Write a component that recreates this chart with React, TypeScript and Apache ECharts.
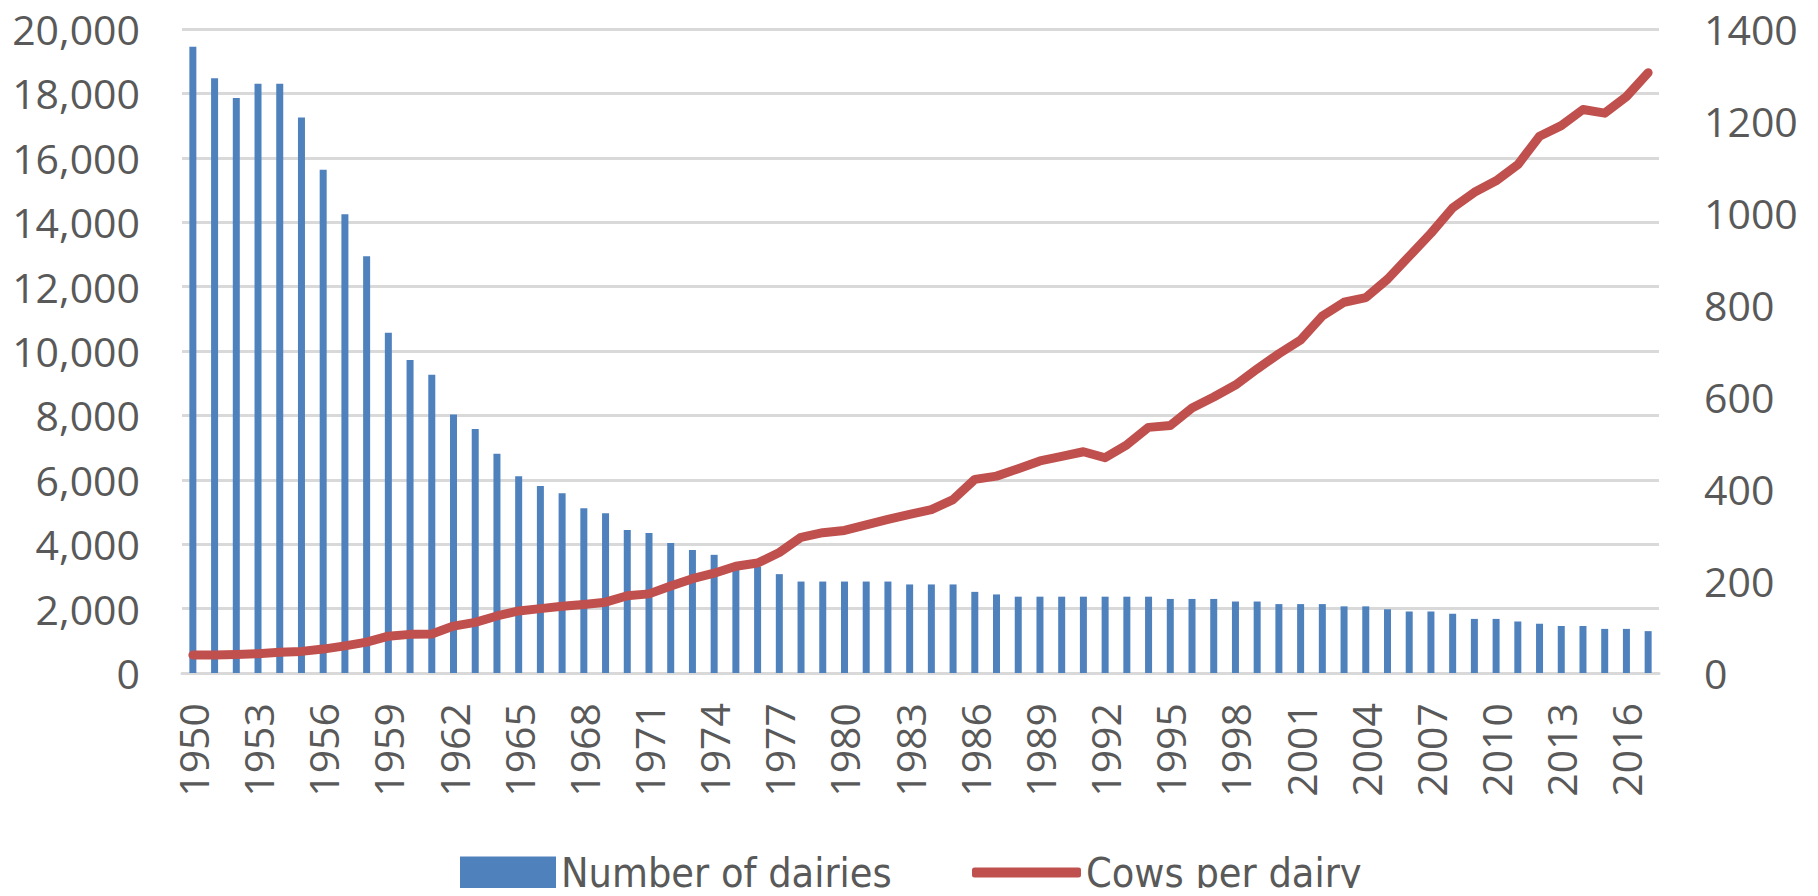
import React, { useEffect, useRef } from "react";
import * as echarts from "echarts";

const years: string[] = [];
for (let y = 1950; y <= 2017; y++) years.push(String(y));

const dairies = [
  19450, 18470, 17860, 18300, 18300, 17250, 15630, 14250, 12940, 10570,
  9720, 9260, 8030, 7580, 6810, 6110, 5810, 5580, 5120, 4960,
  4440, 4350, 4040, 3820, 3670, 3350, 3310, 3070, 2840, 2840,
  2840, 2840, 2840, 2750, 2750, 2750, 2520, 2440, 2370, 2370,
  2370, 2370, 2370, 2370, 2370, 2300, 2300, 2300, 2220, 2220,
  2140, 2140, 2140, 2070, 2070, 1980, 1910, 1910, 1840, 1680,
  1680, 1600, 1530, 1460, 1460, 1370, 1370, 1300,
];

const cowsPerDairy = [
  39, 39, 40, 42, 45, 47, 52, 59, 67, 80,
  84, 85, 102, 110, 124, 135, 140, 145, 149, 154,
  168, 172, 189, 205, 217, 232, 239, 262, 295, 305,
  310, 322, 334, 345, 355, 377, 421, 428, 444, 461,
  471, 481, 468, 496, 534, 538, 576, 600, 626, 661,
  694, 724, 776, 806, 816, 856, 906, 956, 1011, 1045,
  1070, 1105, 1167, 1190, 1225, 1217, 1253, 1305,
];

const leftTicks = { min: 0, max: 20000, interval: 2000 };
const rightTicks = { min: 0, max: 1400, interval: 200 };

const labelColor = "#595959";
const gridColor = "#d9d9d9";
const barColor = "#4f81bd";
const lineColor = "#c0504d";
const tickFont = "'Open Sans', 'Liberation Sans', sans-serif";
const legendFont = "'DejaVu Sans Condensed', 'Liberation Sans Narrow', sans-serif";

export default function App() {
  const ref = useRef<HTMLDivElement>(null);
  useEffect(() => {
    if (!ref.current) return;
    const chart = echarts.init(ref.current, undefined, { renderer: "svg" });
    const legendText = { fontFamily: legendFont, fontSize: 41, lineHeight: 40, color: labelColor };
    chart.setOption({
      animation: false,
      backgroundColor: "#ffffff",
      grid: { left: 182, right: 159, top: 29, bottom: 223, containLabel: false },
      legend: [
        {
          data: [{ name: "Number of dairies", icon: "rect" }],
          left: 460,
          top: 852,
          padding: 0,
          itemWidth: 96,
          itemHeight: 32,
          textStyle: legendText,
        },
        {
          data: [{ name: "Cows per dairy", icon: "roundRect", itemStyle: { color: lineColor } }],
          left: 972,
          top: 852,
          padding: 0,
          itemWidth: 109,
          itemHeight: 10,
          textStyle: legendText,
        },
      ],
      xAxis: {
        type: "category",
        data: years,
        boundaryGap: true,
        axisLine: { show: true, lineStyle: { color: gridColor, width: 3 } },
        axisTick: { show: false },
        axisLabel: {
          rotate: 90,
          interval: 2,
          margin: 30,
          fontSize: 41,
          fontFamily: tickFont,
          color: labelColor,
        },
      },
      yAxis: [
        {
          type: "value",
          ...leftTicks,
          axisLine: { show: false },
          axisTick: { show: false },
          splitLine: { lineStyle: { color: gridColor, width: 3 } },
          axisLabel: {
            margin: 42,
            fontSize: 41,
            fontFamily: tickFont,
            color: labelColor,
            formatter: (v: number) => v.toLocaleString("en-US"),
          },
        },
        {
          type: "value",
          ...rightTicks,
          position: "right",
          axisLine: { show: false },
          axisTick: { show: false },
          splitLine: { show: false },
          axisLabel: {
            margin: 45,
            fontSize: 41,
            fontFamily: tickFont,
            color: labelColor,
            formatter: (v: number) => String(v),
          },
        },
      ],
      series: [
        {
          name: "Number of dairies",
          type: "bar",
          data: dairies,
          barWidth: 7,
          itemStyle: { color: barColor },
        },
        {
          name: "Cows per dairy",
          type: "line",
          yAxisIndex: 1,
          data: cowsPerDairy,
          symbol: "none",
          z: 5,
          lineStyle: { color: lineColor, width: 9, cap: "round", join: "round" },
          itemStyle: { color: lineColor },
        },
      ],
    });
    return () => chart.dispose();
  }, []);
  return <div ref={ref} style={{ width: 1818, height: 896, margin: -8 }} />;
}
